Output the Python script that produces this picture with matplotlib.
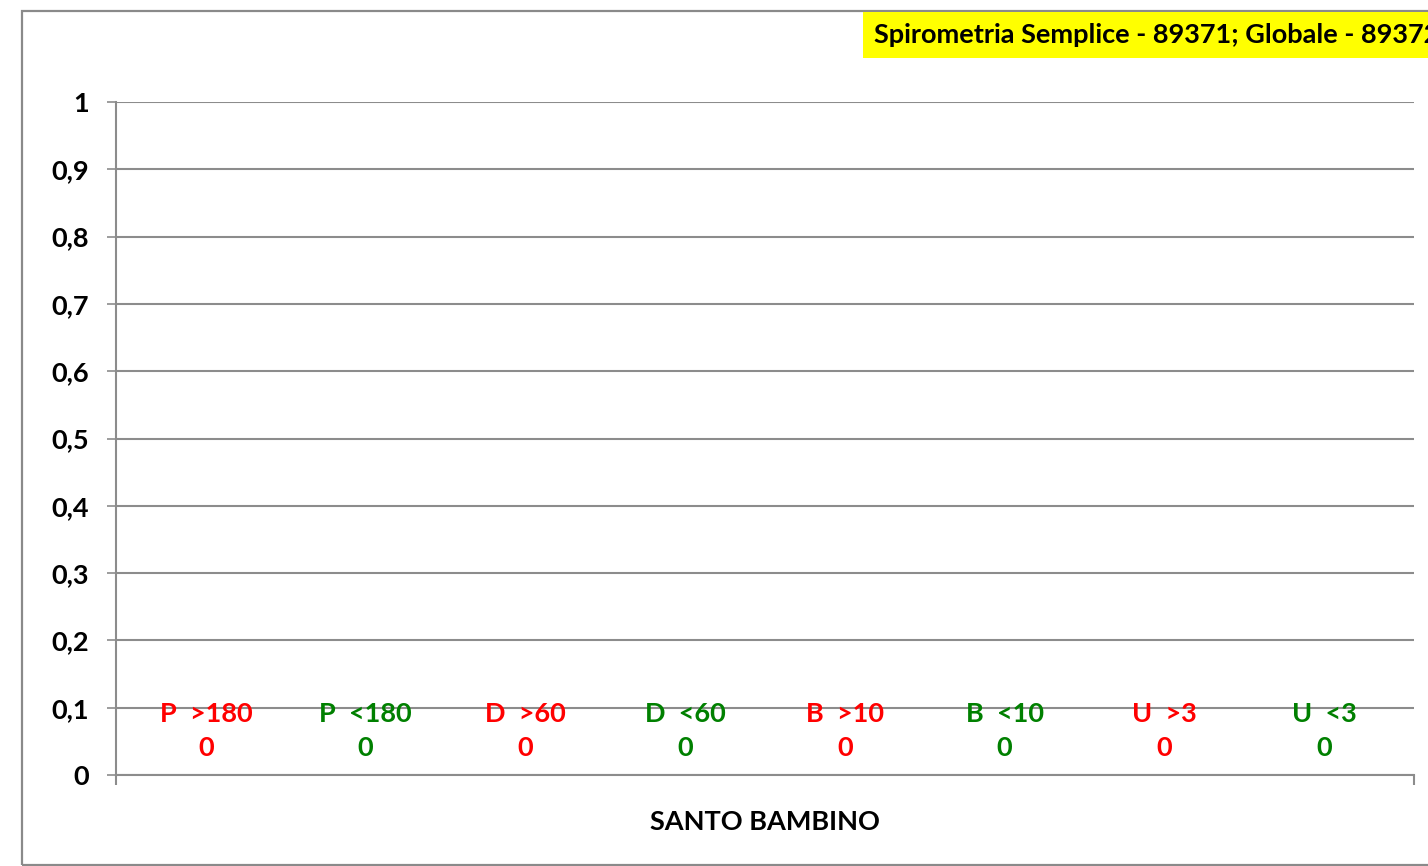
import matplotlib
matplotlib.use("Agg")
import matplotlib.pyplot as plt
import numpy as np
from matplotlib.patches import Rectangle

# dati
series = ["P  >180", "P  <180", "D  >60", "D  <60", "B  >10", "B  <10", "U  >3", "U  <3"]
values = [0, 0, 0, 0, 0, 0, 0, 0]
series_colors = ["#FF0000", "#008000"] * 4
category = "SANTO BAMBINO"
title = "Spirometria Semplice - 89371; Globale - 89372"
yticks = [0, 0.1, 0.2, 0.3, 0.4, 0.5, 0.6, 0.7, 0.8, 0.9, 1]

FONT = "Lato"
FS = 19.5
GRID = "#8C8C8C"

W, H = 1428, 866
fig = plt.figure(figsize=(W / 100, H / 100), dpi=100)
fig.patch.set_facecolor("white")

# bordo esterno dell'area grafico (tagliato a destra e in basso, come nell'originale)
fig.add_artist(Rectangle((22 / W, 1 - 865 / H), 1.2, (865 - 11) / H,
                         transform=fig.transFigure, fill=False,
                         edgecolor="#8A8A8A", linewidth=1.6))

ax = fig.add_axes([116 / W, 1 - 775 / H, (1414 - 116) / W, (775 - 102) / H])
x = np.arange(len(series))
bars = ax.bar(x, values, width=0.8, color=series_colors)

ax.set_xlim(-0.563, len(series) - 1 + 0.563)
ax.set_ylim(0, 1)
ax.set_yticks(yticks)
ax.set_yticklabels([("%g" % v).replace(".", ",") for v in yticks],
                   fontfamily=FONT, fontweight="bold", fontsize=FS)
ax.yaxis.grid(True, color=GRID, linewidth=1.5)
ax.set_axisbelow(True)
ax.tick_params(axis="y", length=6.5, width=1.2, color=GRID, pad=13)

# tick dell'asse x solo ai bordi della categoria
x0, x1 = ax.get_xlim()
ax.set_xticks([x0, x1])
ax.set_xticklabels(["", ""])
ax.tick_params(axis="x", length=7.5, width=1.5, color=GRID)
ax.set_xticks([(x0 + x1) / 2], minor=True)
ax.set_xticklabels([category], minor=True, fontfamily=FONT,
                   fontweight="bold", fontsize=FS)
ax.tick_params(axis="x", which="minor", length=0, pad=25)

for s in ("top", "right"):
    ax.spines[s].set_visible(False)
ax.spines["left"].set_color(GRID)
ax.spines["left"].set_linewidth(1.5)
ax.spines["bottom"].set_color(GRID)
ax.spines["bottom"].set_linewidth(1.5)

for xi, v, s, c in zip(x, values, series, series_colors):
    ax.annotate("%s\n%d" % (s, v), xy=(xi, v), xytext=(0, 11),
                textcoords="offset points", ha="center", va="bottom",
                color=c, fontfamily=FONT, fontweight="bold", fontsize=FS,
                linespacing=1.5)

fig.text(874 / W, 1 - 35 / H, title, ha="left", va="center",
         fontfamily=FONT, fontweight="bold", fontsize=FS, color="black",
         bbox=dict(boxstyle="square,pad=0.4", facecolor="#FFFF00",
                   edgecolor="none"))

fig.savefig("out.png", dpi=100)
